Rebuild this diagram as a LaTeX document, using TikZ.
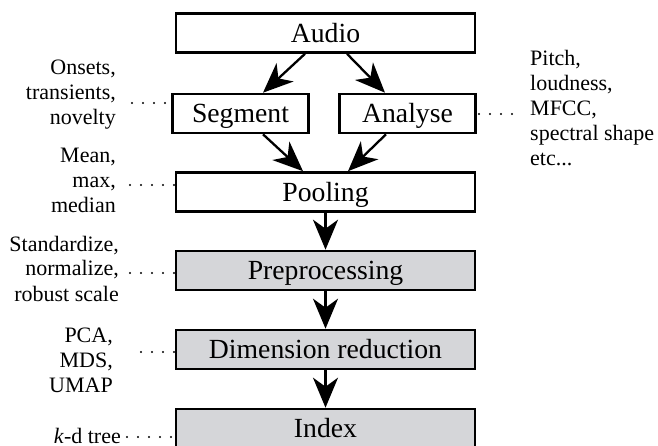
\documentclass[tikz,border=0pt]{standalone}
\usepackage{fontspec}
\setmainfont{Liberation Serif}
\newfontfamily\serifface{Liberation Serif}
\usetikzlibrary{arrows.meta}
\definecolor{boxgrey}{RGB}{213,214,217}
\begin{document}
\begin{tikzpicture}[x=1pt,y=-1pt,
  box/.style={draw,line width=2.6pt,inner sep=0pt,text height=18.5pt,text depth=0pt,font=\serifface\fontsize{27.7}{32}\selectfont},
  wide/.style={box,minimum width=299pt,minimum height=39pt},
  half/.style={box,minimum width=136pt,minimum height=39pt},
  shade/.style={fill=boxgrey},
  arr/.style={line width=2.3pt,-{Stealth[length=30pt,width=25pt,inset=9pt]}},
  lbl/.style={font=\serifface\fontsize{22}{25}\selectfont,inner sep=0pt},
  dotl/.style={line width=2.4pt,line cap=round,dash pattern=on 0pt off 11pt}]
\useasboundingbox (0,0) rectangle (658,446);

\node[wide] (audio) at (325.5,33) {Audio};
\node[half] (segment) at (240.5,113.5) {Segment};
\node[half] (analyse) at (407.5,113.5) {Analyse};
\node[wide] (pooling) at (325.5,192) {Pooling};
\node[wide,shade] (prep) at (325.5,270.5) {Preprocessing};
\node[wide,shade] (dimred) at (325.5,349.5) {Dimension reduction};
\node[wide,shade] (index) at (325.5,428.5) {Index};

\node[lbl,align=right,anchor=base east] (lonsets) at (116,125) {Onsets,\\transients,\\novelty};
\node[lbl,align=right,anchor=base east] (lmean) at (116,213) {Mean,\\max,\\median};
\node[lbl,align=right,anchor=base east] (lstd) at (119,301) {Standardize,\\normalize,\\robust scale};
\node[lbl,align=right,anchor=base east] (lpca) at (113,392) {PCA,\\MDS,\\UMAP};
\node[lbl,anchor=base east] (lkd) at (121,443) {\textit{k}-d tree};
\node[lbl,align=left,anchor=base west] (lpitch) at (530,166) {Pitch,\\loudness,\\MFCC,\\spectral shape\\etc...};

\draw[arr] ([xshift=-20.5pt]audio.south) -- ([xshift=22.5pt]segment.north);
\draw[arr] ([xshift=21.5pt]audio.south) -- ([xshift=-22.5pt]analyse.north);
\draw[arr] ([xshift=22.5pt]segment.south) -- ([xshift=-22.5pt]pooling.north);
\draw[arr] ([xshift=-21.5pt]analyse.south) -- ([xshift=22.5pt]pooling.north);
\draw[arr] (pooling.south) -- (prep.north);
\draw[arr] (prep.south) -- (dimred.north);
\draw[arr] (dimred.south) -- (index.north);

\coordinate (dseg) at (132,103);
\coordinate (dpool) at (130,185);
\coordinate (dprep) at (130,273);
\coordinate (ddim) at (141,352);
\coordinate (dkd) at (127,437);
\coordinate (dana) at (512,114);
\draw[dotl] (dseg) -- (dseg -| segment.west);
\draw[dotl] (dpool) -- (dpool -| pooling.west);
\draw[dotl] (dprep) -- (dprep -| prep.west);
\draw[dotl] (ddim) -- (ddim -| dimred.west);
\draw[dotl] (dkd) -- (dkd -| index.west);
\draw[dotl] (dana) -- (dana -| analyse.east);
\end{tikzpicture}
\end{document}
